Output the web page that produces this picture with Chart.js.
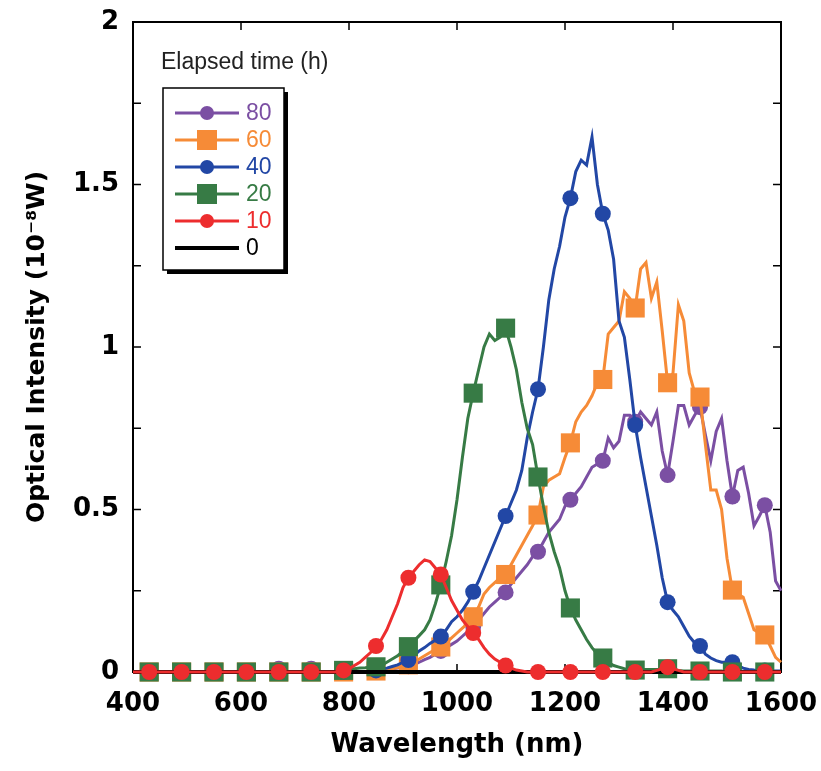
<!DOCTYPE html>
<html>
<head>
<meta charset="utf-8">
<script src="https://cdn.jsdelivr.net/npm/chart.js@4.4.1/dist/chart.umd.min.js"></script>
<style>
  body { margin: 0; background: #fff; }
  canvas { display: block; }
</style>
</head>
<body>
<canvas id="spectraChart" width="821" height="771"></canvas>
<script>
// Wavelength grid (nm) shared by the measured spectra
const wavelengths = [
    400, 410, 420, 430, 440, 450, 460, 470, 480, 490,
    500, 510, 520, 530, 540, 550, 560, 570, 580, 590,
    600, 610, 620, 630, 640, 650, 660, 670, 680, 690,
    700, 710, 720, 730, 740, 750, 760, 770, 780, 790,
    800, 810, 820, 830, 840, 850, 860, 870, 880, 890,
    900, 910, 920, 930, 940, 950, 960, 970, 980, 990,
    1000, 1010, 1020, 1030, 1040, 1050, 1060, 1070, 1080, 1090,
    1100, 1110, 1120, 1130, 1140, 1150, 1160, 1170, 1180, 1190,
    1200, 1210, 1220, 1230, 1240, 1250, 1260, 1270, 1280, 1290,
    1300, 1310, 1320, 1330, 1340, 1350, 1360, 1370, 1380, 1390,
    1400, 1410, 1420, 1430, 1440, 1450, 1460, 1470, 1480, 1490,
    1500, 1510, 1520, 1530, 1540, 1550, 1560, 1570, 1580, 1590,
    1600
];

// Wavelengths where a marker symbol is drawn
const markerNm = [430, 490, 550, 610, 670, 730, 790, 850, 910, 970,
    1030, 1090, 1150, 1210, 1270, 1330, 1390, 1450, 1510, 1570];

// Optical intensity (10^-8 W) for each elapsed time
const h80 = [
    0, 0, 0, 0, 0, 0, 0, 0, 0, 0,
    0, 0, 0, 0, 0, 0, 0, 0, 0, 0,
    0, 0, 0, 0, 0, 0, 0.005, 0.01, 0.005, 0,
    0, 0, 0.005, 0.01, 0.005, 0, 0, 0, 0, 0,
    0, 0, 0, 0, 0, 0.003, 0.005, 0.008, 0.01, 0.012,
    0.015, 0.018, 0.022, 0.03, 0.038, 0.045, 0.055, 0.065, 0.075, 0.085,
    0.095, 0.11, 0.125, 0.14, 0.16, 0.18, 0.2, 0.215, 0.23, 0.245,
    0.27, 0.29, 0.31, 0.33, 0.355, 0.37, 0.4, 0.43, 0.45, 0.47,
    0.51, 0.53, 0.55, 0.57, 0.6, 0.63, 0.64, 0.65, 0.72, 0.69,
    0.71, 0.79, 0.79, 0.77, 0.8, 0.78, 0.76, 0.8, 0.68, 0.606,
    0.71, 0.82, 0.82, 0.76, 0.79, 0.815, 0.73, 0.65, 0.74, 0.78,
    0.65, 0.54, 0.62, 0.63, 0.55, 0.45, 0.48, 0.513, 0.43, 0.28,
    0.25
];
const h60 = [
    0, 0, 0, 0, 0, 0, 0, 0, 0, 0,
    0, 0, 0, 0, 0, 0, 0, 0, 0, 0,
    0, 0, 0, 0, 0, 0, 0, 0, 0, 0,
    0, 0, 0, 0, 0, 0, 0, 0, 0, 0,
    0, 0, 0, 0, 0, 0.003, 0.005, 0.008, 0.01, 0.014,
    0.018, 0.022, 0.03, 0.04, 0.05, 0.06, 0.07, 0.077, 0.09, 0.105,
    0.12, 0.135, 0.15, 0.17, 0.2, 0.24, 0.26, 0.275, 0.29, 0.3,
    0.33, 0.36, 0.39, 0.42, 0.45, 0.483, 0.57, 0.59, 0.6, 0.61,
    0.66, 0.705, 0.77, 0.8, 0.82, 0.85, 0.89, 0.9, 1.04, 1.06,
    1.08, 1.17, 1.15, 1.12, 1.24, 1.26, 1.15, 1.2, 1.05, 0.89,
    0.92, 1.13, 1.08, 0.92, 0.86, 0.846, 0.7, 0.56, 0.56, 0.5,
    0.35, 0.252, 0.24, 0.23, 0.18, 0.13, 0.12, 0.114, 0.08, 0.045,
    0.03
];
const h40 = [
    0, 0, 0, 0, 0, 0, 0, 0, 0, 0,
    0, 0, 0, 0, 0, 0, 0, 0, 0, 0,
    0, 0, 0, 0, 0, 0, 0, 0, 0, 0,
    0, 0, 0, 0, 0, 0, 0, 0, 0, 0,
    0, 0, 0, 0, 0.003, 0.005, 0.008, 0.012, 0.017, 0.022,
    0.03, 0.037, 0.05, 0.065, 0.075, 0.088, 0.098, 0.109, 0.13, 0.155,
    0.17, 0.19, 0.215, 0.247, 0.28, 0.32, 0.36, 0.4, 0.44, 0.48,
    0.52, 0.56, 0.62, 0.72, 0.8, 0.87, 1.0, 1.145, 1.24, 1.31,
    1.4, 1.458, 1.54, 1.575, 1.56, 1.646, 1.5, 1.41, 1.36, 1.27,
    1.08, 1.03, 0.9, 0.76, 0.66, 0.57, 0.48, 0.39, 0.29, 0.215,
    0.19, 0.17, 0.14, 0.11, 0.09, 0.08, 0.055, 0.043, 0.035, 0.03,
    0.03, 0.03, 0.02, 0.012, 0.008, 0.006, 0.005, 0.005, 0.003, 0.003,
    0.003
];
const h20 = [
    0, 0, 0, 0, 0, 0, 0, 0, 0, 0,
    0, 0, 0, 0, 0, 0, 0, 0, 0, 0,
    0, 0, 0, 0, 0, 0, 0, 0, 0, 0,
    0, 0, 0, 0, 0, 0, 0, 0, 0, 0.005,
    0.008, 0.01, 0.012, 0.013, 0.015, 0.016, 0.02, 0.03, 0.04, 0.05,
    0.065, 0.078, 0.095, 0.112, 0.13, 0.16, 0.21, 0.268, 0.34, 0.42,
    0.53, 0.66, 0.78, 0.858, 0.93, 1.0, 1.04, 1.02, 1.03, 1.058,
    1.0, 0.93, 0.83, 0.75, 0.7, 0.6, 0.51, 0.43, 0.37, 0.32,
    0.25, 0.197, 0.16, 0.13, 0.1, 0.075, 0.055, 0.043, 0.03, 0.02,
    0.015, 0.01, 0.008, 0.006, 0.008, 0.008, 0.008, 0.008, 0.008, 0.01,
    0.008, 0.005, 0.003, 0.003, 0.003, 0.003, 0.003, 0.003, 0.003, 0.003,
    0, 0, 0, 0, 0, 0, 0, 0, 0, 0,
    0
];
const h10 = [
    0, 0, 0, 0, 0, 0, 0, 0, 0, 0,
    0, 0, 0, 0, 0, 0, 0, 0, 0, 0,
    0, 0, 0, 0, 0, 0, 0, 0, 0, 0,
    0, 0, 0, 0, 0, 0, 0, 0, 0, 0.005,
    0.01, 0.02, 0.03, 0.045, 0.06, 0.08, 0.1, 0.13, 0.17, 0.21,
    0.26, 0.29, 0.31, 0.33, 0.345, 0.34, 0.32, 0.3, 0.26, 0.22,
    0.19, 0.16, 0.14, 0.12, 0.1, 0.075, 0.055, 0.04, 0.03, 0.02,
    0.012, 0.006, 0.003, 0, 0, 0, 0, 0, 0, 0,
    0, 0, 0, 0, 0, 0, 0, 0, 0, 0,
    0, 0, 0, 0, 0, 0, 0, 0.005, 0.01, 0.015,
    0.01, 0.005, 0, 0, 0, 0, 0, 0, 0, 0,
    0, 0, 0, 0, 0, 0, 0, 0, 0, 0,
    0
];
// 0 h: flat baseline
const wl0 = [400, 1600];
const h0 = [0, 0];

const xTicks = [400, 600, 800, 1000, 1200, 1400, 1600];

function series(label, xs, values, color, style, order) {
    return {
        label: label,
        order: order,
        data: xs.map((w, i) => ({ x: w, y: values[i] })),
        borderColor: color,
        backgroundColor: color,
        borderWidth: style ? 3 : 4,
        pointStyle: style || 'circle',
        pointRadius: function (ctx) {
            if (!style || !ctx.raw || !markerNm.includes(ctx.raw.x)) return 0;
            return style === 'rect' ? 13.5 : 8;
        },
        pointHoverRadius: 0,
        pointBorderWidth: 0,
        pointBackgroundColor: color,
        tension: 0,
        clip: false
    };
}

// Box round the plot with inward ticks
const frame = {
    id: 'frame',
    beforeDatasetsDraw(chart) {
        const { ctx, chartArea: a, scales: { x, y } } = chart;
        ctx.save();
        ctx.strokeStyle = '#000';
        ctx.lineWidth = 2;
        ctx.strokeRect(a.left, a.top, a.right - a.left, a.bottom - a.top);
        ctx.lineWidth = 1.5;
        ctx.beginPath();
        x.ticks.forEach(t => {
            const px = x.getPixelForValue(t.value);
            ctx.moveTo(px, a.bottom); ctx.lineTo(px, a.bottom - 8);
            ctx.moveTo(px, a.top); ctx.lineTo(px, a.top + 8);
        });
        y.ticks.forEach(t => {
            const py = y.getPixelForValue(t.value);
            ctx.moveTo(a.left, py); ctx.lineTo(a.left + 8, py);
            ctx.moveTo(a.right, py); ctx.lineTo(a.right - 8, py);
        });
        ctx.stroke();
        ctx.restore();
    }
};

// Legend box with line-through-marker samples
const legendBox = {
    id: 'legendBox',
    afterDraw(chart) {
        const ctx = chart.ctx;
        const left = 163, top = 88, w = 121, h = 182;
        ctx.save();
        ctx.font = '23px "Liberation Sans", Arial, sans-serif';
        ctx.textBaseline = 'middle';
        ctx.fillStyle = '#222';
        ctx.fillText('Elapsed time (h)', 161, 63);

        ctx.fillStyle = '#000';
        ctx.fillRect(left + 4, top + 4, w, h);
        ctx.fillStyle = '#fff';
        ctx.fillRect(left, top, w, h);
        ctx.strokeStyle = '#000';
        ctx.lineWidth = 1.5;
        ctx.strokeRect(left, top, w, h);

        chart.data.datasets.forEach((ds, i) => {
            const yy = 113 + i * 27;
            ctx.strokeStyle = ds.borderColor;
            ctx.lineWidth = ds.borderWidth;
            ctx.beginPath();
            ctx.moveTo(175, yy);
            ctx.lineTo(239, yy);
            ctx.stroke();
            ctx.fillStyle = ds.borderColor;
            if (ds.label !== '0') {
                if (ds.pointStyle === 'rect') {
                    ctx.fillRect(197, yy - 10, 20, 20);
                } else {
                    ctx.beginPath();
                    ctx.arc(207, yy, 7, 0, Math.PI * 2);
                    ctx.fill();
                }
            }
            ctx.fillText(ds.label, 246, yy + 1);
        });
        ctx.restore();
    }
};

const ctx = document.getElementById('spectraChart').getContext('2d');

const spectraChart = new Chart(ctx, {
    type: 'line',
    data: {
        datasets: [
            series('80', wavelengths, h80, '#7b4fa3', 'circle', 5),
            series('60', wavelengths, h60, '#f68b37', 'rect', 4),
            series('40', wavelengths, h40, '#2247a5', 'circle', 3),
            series('20', wavelengths, h20, '#377b45', 'rect', 2),
            series('10', wavelengths, h10, '#ed2d2e', 'circle', 0),
            series('0', wl0, h0, '#000000', null, 1)
        ]
    },
    options: {
        responsive: false,
        animation: false,
        events: [],
        layout: { padding: { top: 22, right: 40, left: 0, bottom: 0 } },
        plugins: {
            legend: { display: false },
            tooltip: { enabled: false }
        },
        scales: {
            x: {
                type: 'linear',
                min: 400,
                max: 1600,
                afterFit: s => { s.height = 99; s.paddingLeft = 0; s.paddingRight = 0; },
                afterBuildTicks: s => { s.ticks = xTicks.map(v => ({ value: v })); },
                grid: { display: false, drawTicks: false },
                border: { display: false },
                ticks: {
                    padding: 17,
                    color: '#000',
                    font: { family: '"DejaVu Sans", sans-serif', size: 26, weight: 'bold' },
                    callback: v => String(v)
                },
                title: {
                    display: true,
                    text: 'Wavelength (nm)',
                    color: '#000',
                    padding: { top: 0, bottom: 10 },
                    font: { family: '"DejaVu Sans", sans-serif', size: 26, weight: 'bold' }
                }
            },
            y: {
                min: 0,
                max: 2,
                afterFit: s => { s.width = 133; s.paddingTop = 0; s.paddingBottom = 0; },
                grid: { display: false, drawTicks: false },
                border: { display: false },
                ticks: {
                    stepSize: 0.25,
                    padding: 14,
                    color: '#000',
                    font: { family: '"DejaVu Sans", sans-serif', size: 26, weight: 'bold' },
                    callback: v => (v % 0.5 === 0 ? String(v) : '')
                },
                title: {
                    display: true,
                    text: 'Optical Intensity (10⁻⁸W)',
                    color: '#000',
                    padding: { top: 22, bottom: 0 },
                    font: { family: '"DejaVu Sans", sans-serif', size: 25, weight: 'bold' }
                }
            }
        }
    },
    plugins: [frame, legendBox]
});
</script>
</body>
</html>
